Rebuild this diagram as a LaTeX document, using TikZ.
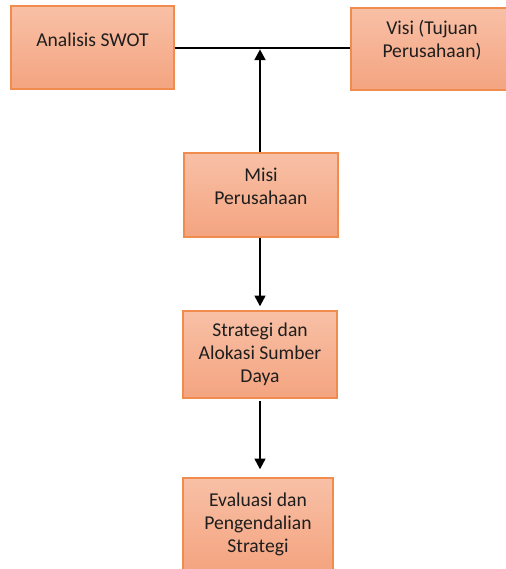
\documentclass[tikz,border=0pt]{standalone}
\usepackage{fontspec}
\setmainfont{Carlito}
\usepackage{xcolor}
\usetikzlibrary{arrows.meta}
\definecolor{boxtop}{RGB}{248,192,166}
\definecolor{boxbot}{RGB}{244,164,128}
\definecolor{boxline}{RGB}{240,140,78}
\definecolor{ink}{RGB}{30,30,30}

\begin{document}
\begin{tikzpicture}[x=.75pt,y=-.75pt,
  stepbox/.style={rectangle,draw=boxline,line width=1pt,top color=boxtop,bottom color=boxbot,
   align=center,text=ink,font=\fontsize{14.7}{17.25}\selectfont,inner sep=0pt},
  link/.style={line width=1.7pt,black},
  arr/.style={link,-{Triangle[length=8pt,width=8pt]}}]
 \useasboundingbox (0,0) rectangle (506,569);
 \clip (0,0) rectangle (506,569);
 \node[stepbox,minimum width=163*.75pt,minimum height=83*.75pt] (swot) at (92.5,47.5) {Analisis SWOT\\[-6pt]\mbox{}};
 \node[stepbox,minimum width=162*.75pt,minimum height=82*.75pt] (visi) at (432,49) {Visi (Tujuan\\Perusahaan)\\[-2pt]\mbox{}};
 \node[stepbox,minimum width=154*.75pt,minimum height=84*.75pt] (misi) at (261,195) {Misi\\Perusahaan\\[-4.5pt]\mbox{}};
 \node[stepbox,minimum width=154*.75pt,minimum height=87*.75pt] (strat) at (260,354.5) {Strategi dan\\Alokasi Sumber\\Daya};
 \node[stepbox,minimum width=150*.75pt,minimum height=92*.75pt] (eval) at (258,524) {Evaluasi dan\\Pengendalian\\Strategi};
 \coordinate (junc) at (260,48);
 \draw[link] (swot.east |- junc) -- (visi.west |- junc);
 \draw[arr] (misi.north -| junc) -- ([yshift=-1pt]junc);
 \draw[arr,shorten >=3pt] (misi.south -| strat.north) -- (strat.north);
 \draw[arr,shorten <=2pt,shorten >=6pt] (strat.south) -- (strat.south |- eval.north);
\end{tikzpicture}
\end{document}
